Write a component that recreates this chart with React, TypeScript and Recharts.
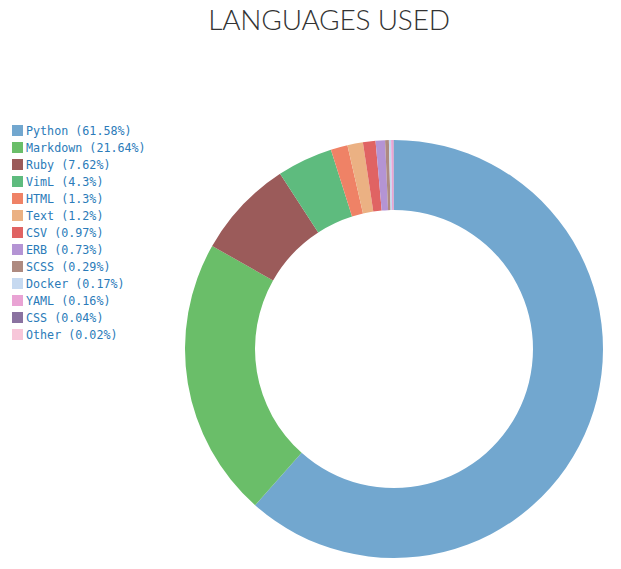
import React from 'react';
import { PieChart, Pie, Cell } from 'recharts';

const languages = ['Python', 'Markdown', 'Ruby', 'VimL', 'HTML', 'Text', 'CSV', 'ERB', 'SCSS', 'Docker', 'YAML', 'CSS', 'Other'];
const shares = [61.58, 21.64, 7.62, 4.3, 1.3, 1.2, 0.97, 0.73, 0.29, 0.17, 0.16, 0.04, 0.02];
const colors = ['#72a7cf', '#6abe69', '#9b5b5a', '#5ebb7e', '#ef8266', '#ebb183', '#e06363', '#b494d4', '#ae8a80', '#c6d9f0', '#e9a3d4', '#8a72a0', '#f7c6d9'];

const data = languages.map((name, i) => ({ name, value: shares[i] }));

export default function App() {
    return (
        <div style={{ position: 'absolute', left: 0, top: 0, width: 621, height: 569, background: '#fff' }}>
            <div
                style={{
                    position: 'absolute', left: 0, top: 2, width: 658, textAlign: 'center',
                    fontFamily: 'Lato', fontWeight: 300, fontSize: 28, color: '#333', letterSpacing: -0.2
                }}
            >
                LANGUAGES USED
            </div>

            <div style={{ position: 'absolute', left: 12, top: 122 }}>
                {data.map((d, i) => (
                    <div key={d.name} style={{ display: 'flex', alignItems: 'center', height: 17 }}>
                        <span style={{ width: 11, height: 11, background: colors[i], marginRight: 3, display: 'inline-block' }} />
                        <span style={{ fontFamily: 'DejaVu Sans Mono', fontSize: 11.7, color: '#2b7bb9' }}>
                            {d.name} ({d.value}%)
                        </span>
                    </div>
                ))}
            </div>

            <div style={{ position: 'absolute', left: 0, top: 0 }}>
                <PieChart width={621} height={569} margin={{ top: 0, right: 0, bottom: 0, left: 0 }}>
                    <Pie
                        data={data}
                        dataKey="value"
                        cx={394}
                        cy={349}
                        innerRadius={139}
                        outerRadius={209}
                        startAngle={90}
                        endAngle={-270}
                        stroke="none"
                        isAnimationActive={false}
                    >
                        {data.map((entry, index) => (
                            <Cell key={`cell-${index}`} fill={colors[index]} />
                        ))}
                    </Pie>
                </PieChart>
            </div>
        </div>
    );
}
